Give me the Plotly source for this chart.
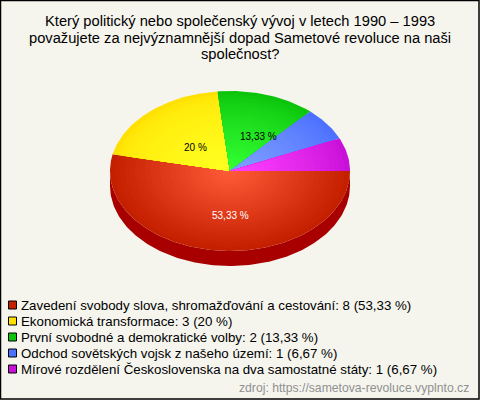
import numpy as np
import plotly.graph_objects as go

title_lines = [
    "Který politický nebo společenský vývoj v letech 1990 – 1993",
    "považujete za nejvýznamnější dopad Sametové revoluce na naši",
    "společnost?",
]
categories = [
    "Zavedení svobody slova, shromažďování a cestování",
    "Ekonomická transformace",
    "První svobodné a demokratické volby",
    "Odchod sovětských vojsk z našeho území",
    "Mírové rozdělení Československa na dva samostatné státy",
]
counts = [8, 3, 2, 1, 1]
percent_labels = ["53,33 %", "20 %", "13,33 %", "6,67 %", "6,67 %"]
source = "zdroj: https://sametova-revoluce.vyplnto.cz"

edge_colors = [(196, 32, 0), (255, 224, 0), (12, 196, 12), (76, 112, 255), (200, 16, 216)]
center_colors = [(255, 90, 56), (255, 255, 32), (51, 255, 51), (128, 160, 255), (255, 64, 255)]
gradient_power = [1, 0.5, 0.8, 0.8, 0.8]
legend_colors = ["#c42000", "#ffe000", "#0cc40c", "#4c70ff", "#c810d8"]
side_color = "#a80000"
bg_color = "#f5f5ee"

# pie geometry in pixels
cx, cy, rx, ry, depth = 230, 171, 120, 80, 15
n_bands = 24

fig = go.Figure()


def wedge(a0, a1, scale=1.0):
    # angles are clockwise from 3 o'clock, y axis is reversed
    t = np.radians(np.linspace(a0, a1, max(int(a1 - a0), 2) + 1))
    xs = cx + scale * rx * np.cos(t)
    ys = cy + scale * ry * np.sin(t)
    return [cx, *xs, cx], [cy, *ys, cy]


def add_poly(xs, ys, color):
    fig.add_trace(go.Scatter(x=xs, y=ys, mode="lines", fill="toself", fillcolor=color,
                             line=dict(width=0, color=color), hoverinfo="skip", showlegend=False))


total = sum(counts)
angles = np.cumsum([0] + [c / total * 360 for c in counts])

# side wall, only the front half shows
for i in range(len(counts)):
    a0, a1 = angles[i], min(angles[i + 1], 180)
    if a0 >= 180:
        continue
    t = np.radians(np.linspace(a0, a1, 181))
    top_x = cx + rx * np.cos(t)
    top_y = cy + ry * np.sin(t)
    add_poly([*top_x, *top_x[::-1]], [*top_y, *(top_y[::-1] + depth)], side_color)

# top face, radial gradient made of nested wedges
for i in range(len(counts)):
    for b in range(n_bands):
        f = (b / (n_bands - 1)) ** gradient_power[i]
        col = [round(e + (c - e) * f) for e, c in zip(edge_colors[i], center_colors[i])]
        xs, ys = wedge(angles[i], angles[i + 1], 1 - b / n_bands)
        add_poly(xs, ys, "rgb(%d,%d,%d)" % tuple(col))

annotations = [
    dict(x=230, y=215, text=percent_labels[0], showarrow=False, font=dict(size=10, color="white")),
    dict(x=195, y=147, text=percent_labels[1], showarrow=False, font=dict(size=10, color="black")),
    dict(x=258, y=136, text=percent_labels[2], showarrow=False, font=dict(size=10, color="black")),
    dict(x=471, y=388, text=source, showarrow=False, xanchor="right",
         font=dict(size=12.2, color="#909090")),
]
for i, line in enumerate(title_lines):
    annotations.append(dict(x=240, y=21 + i * 16.5, text=line, showarrow=False,
                            font=dict(size=14.7, color="black")))
shapes = [dict(type="rect", x0=0.5, y0=0.5, x1=479, y1=399, line=dict(color="black", width=1.5))]

for i, name in enumerate(categories):
    y = 305 + i * 16
    shapes.append(dict(type="rect", x0=8.5, x1=16.5, y0=y - 4, y1=y + 4,
                       fillcolor=legend_colors[i], line=dict(color="black", width=1)))
    annotations.append(dict(x=18.5, y=y, text=f"{name}: {counts[i]} ({percent_labels[i]})",
                            showarrow=False, xanchor="left", font=dict(size=13.3, color="black")))

fig.update_layout(
    width=480,
    height=400,
    margin=dict(l=0, r=0, t=0, b=0),
    paper_bgcolor=bg_color,
    plot_bgcolor=bg_color,
    font=dict(family="Liberation Sans"),
    annotations=annotations,
    shapes=shapes,
    showlegend=False,
    xaxis=dict(range=[0, 480], visible=False, fixedrange=True),
    yaxis=dict(range=[400, 0], visible=False, fixedrange=True),
)

# page has a default 8px body margin, drop it
fig.write_html("out.html", config=dict(displayModeBar=False),
               post_script="document.body.style.margin='0';")
